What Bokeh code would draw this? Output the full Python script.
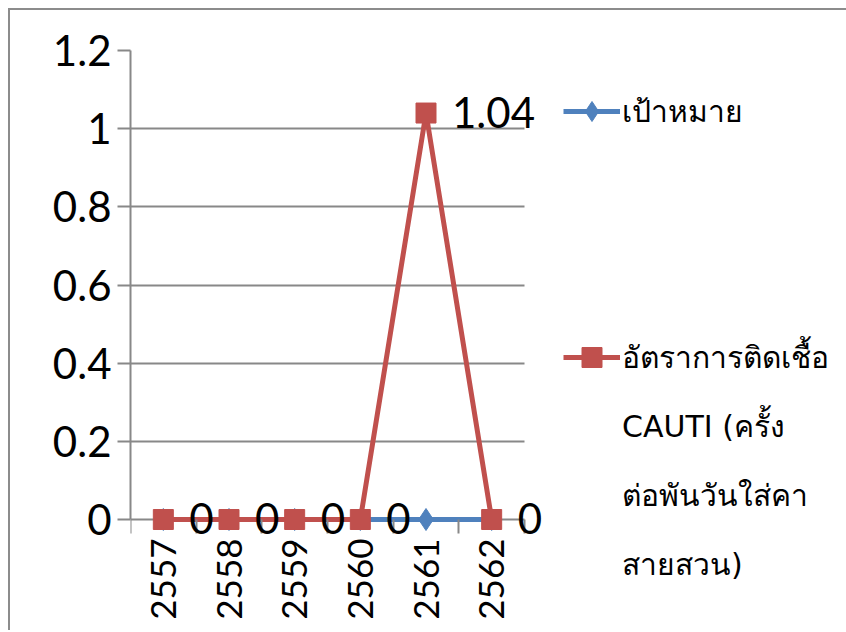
from bokeh.plotting import figure
from bokeh.models import (Range1d, FixedTicker, Legend, LegendItem, ColumnDataSource, LabelSet)
from bokeh.core.properties import value
from bokeh.embed import file_html
from bokeh.resources import INLINE
import math

years = ["2557", "2558", "2559", "2560", "2561", "2562"]
target = [0, 0, 0, 0, 0, 0]
cauti = [0, 0, 0, 0, 1.04, 0]
cauti_labels = ["0", "0", "0", "0", "1.04", "0"]
y_ticks = [0, 0.2, 0.4, 0.6, 0.8, 1.0, 1.2]
y_tick_labels = ["0", "0.2", "0.4", "0.6", "0.8", "1", "1.2"]
name_target = "เป้าหมาย"
name_cauti = ["อัตราการติดเชื้อ", "CAUTI (ครั้ง", "ต่อพันวันใส่คา", "สายสวน)"]

BLUE = "#4F81BD"
RED = "#C0504D"
GRAY = "#888888"
FONT = "Lato"
LEG_FONT = "DejaVu Sans"

n = len(years)
xs = [i + 0.5 for i in range(n)]
y_max = 1.2

# plot area: categories occupy 394 px of a 716 px wide frame; y = 0 sits 111 px above frame bottom
FW, FH = 716, 580
p = figure(frame_width=FW, frame_height=FH, output_backend="svg", toolbar_location=None,
           x_range=Range1d(0, n * FW / 394),
           y_range=Range1d(-y_max * 111 / 469, y_max),
           min_border_left=120, min_border_top=40, min_border_bottom=0,
           min_border_right=0)
p.outline_line_color = None
p.styles = {"margin-left": "8px", "margin-top": "8px",
            "border-top": "2px solid #8c8c8c", "border-left": "2px solid #8c8c8c"}

# x axis (drawn at y = 0)
p.xaxis.fixed_location = 0
p.xaxis.bounds = (0, n)
p.xaxis.ticker = FixedTicker(ticks=xs, minor_ticks=list(range(n + 1)))
p.xaxis.major_label_overrides = {x: y for x, y in zip(xs, years)}
p.xaxis.major_label_orientation = math.pi / 2
p.xaxis.major_tick_line_color = None
p.xaxis.major_tick_out = 14
p.xaxis.major_tick_in = 0
p.xaxis.minor_tick_out = 14
p.xaxis.minor_tick_in = 0
p.xaxis.minor_tick_line_color = GRAY
p.xaxis.minor_tick_line_width = 2
p.xaxis.major_label_standoff = 5
p.xaxis.major_label_text_font = FONT
p.xaxis.major_label_text_font_size = "35px"
p.xaxis.major_label_text_color = "black"
p.xaxis.axis_line_color = None

# y axis
p.yaxis.bounds = (0, y_max)
p.yaxis.ticker = FixedTicker(ticks=y_ticks, minor_ticks=[])
p.yaxis.major_label_overrides = {t: l for t, l in zip(y_ticks, y_tick_labels)}
p.yaxis.major_tick_out = 13
p.yaxis.major_tick_in = 0
p.yaxis.minor_tick_line_color = None
p.yaxis.major_tick_line_color = GRAY
p.yaxis.major_tick_line_width = 2
p.yaxis.major_label_standoff = 6
p.yaxis.major_label_text_font = FONT
p.yaxis.major_label_text_font_size = "42px"
p.yaxis.major_label_text_color = "black"
p.yaxis.axis_line_color = GRAY
p.yaxis.axis_line_width = 2

p.xgrid.grid_line_color = None
p.ygrid.ticker = FixedTicker(ticks=y_ticks)
p.ygrid.cross_bounds = (0, n)
p.ygrid.grid_line_color = GRAY
p.ygrid.grid_line_width = 2

src_t = ColumnDataSource(dict(x=xs, y=target))
src_c = ColumnDataSource(dict(x=xs, y=cauti, lab=cauti_labels))

lt = p.line("x", "y", source=src_t, line_color=BLUE, line_width=5)
st = p.scatter("x", "y", source=src_t, marker="diamond", size=22,
               fill_color=BLUE, line_color=BLUE)
lc = p.line("x", "y", source=src_c, line_color=RED, line_width=5)
sc = p.scatter("x", "y", source=src_c, marker="square", size=20, fill_color=RED, line_color=RED)
# invisible renderer used only to hold the continuation lines of the legend label
blank = p.line(x=[], y=[], line_alpha=0)

labels = LabelSet(x="x", y="y", text="lab", source=src_c, x_offset=26, y_offset=1,
                  text_font=value(FONT), text_font_size="42px", text_baseline="middle",
                  text_align="left", text_color="black")
p.add_layout(labels)


def style_legend(lg):
    lg.border_line_color = None
    lg.background_fill_alpha = 0
    lg.padding = 0
    lg.margin = 0
    lg.glyph_width = 57
    lg.glyph_height = 50
    lg.label_standoff = 2
    lg.spacing = 19
    lg.label_text_font = LEG_FONT
    lg.label_text_font_size = "30px"
    lg.label_text_color = "black"


leg1 = Legend(items=[LegendItem(label=name_target, renderers=[lt, st])],
              location=(433, 494))
style_legend(leg1)
p.add_layout(leg1)

items2 = [LegendItem(label=name_cauti[0], renderers=[lc, sc])]
items2 += [LegendItem(label=t, renderers=[blank]) for t in name_cauti[1:]]
leg2 = Legend(items=items2, location=(433, 41))
style_legend(leg2)
p.add_layout(leg2)

open("out.html", "w").write(file_html(p, INLINE))
